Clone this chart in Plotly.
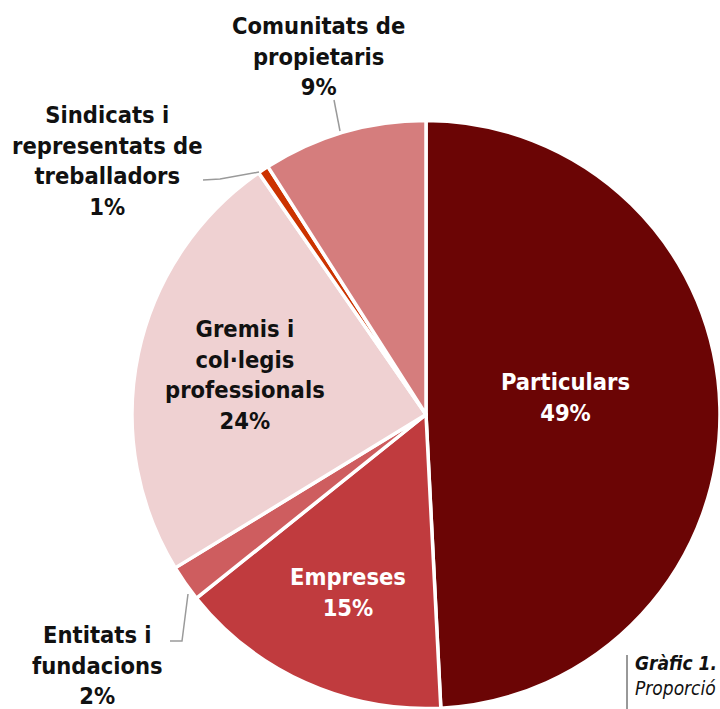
import plotly.graph_objects as go

# data
categories = ['Particulars', 'Empreses', 'Entitats i fundacions', 'Gremis i col·legis professionals',
              'Sindicats i representats de treballadors', 'Comunitats de propietaris']
values = [49, 15, 2, 24, 0.6, 9]
pct_labels = ['49%', '15%', '2%', '24%', '1%', '9%']
label_lines = ['Particulars', 'Empreses', 'Entitats i<br>fundacions', 'Gremis i<br>col·legis<br>professionals',
               'Sindicats i<br>representats de<br>treballadors', 'Comunitats de<br>propietaris']
colors = ['#6B0505', '#C03B3E', '#CE5D5F', '#EFD1D2', '#CC3300', '#D57D7D']

W, H = 720, 709
FONT = 'DejaVu Sans Condensed'

fig = go.Figure(go.Pie(
    labels=categories,
    values=values,
    sort=False,
    direction='clockwise',
    rotation=0,
    marker=dict(colors=colors, line=dict(color='white', width=3.5)),
    textinfo='none',
    hoverinfo='label',
    showlegend=False,
    domain=dict(x=[132 / W, 1.0], y=[0.0, 589 / H]),
))

# label placement (pixel centres) and text colour per slice
label_pos = [(565, 397), (348, 592), (97, 665), (245, 375), (107, 161), (318, 57)]
label_col = ['white', 'white', '#111', '#111', '#111', '#111']

for txt, p, (px_, py_), c in zip(label_lines, pct_labels, label_pos, label_col):
    fig.add_annotation(
        x=px_ / W, y=1 - py_ / H, xref='paper', yref='paper',
        text=f'{txt}<br>{p}', showarrow=False,
        xanchor='center', yanchor='middle', align='center',
        font=dict(family=FONT, size=23.5, color=c, weight='bold'),
    )

# leader lines for outside labels
leaders = [
    [(334, 100), (340, 131)],
    [(203, 180), (220, 179), (259, 172)],
    [(170, 641), (182, 641), (188, 594)],
]
for pts in leaders:
    path = 'M ' + ' L '.join(f'{x / W} {1 - y / H}' for x, y in pts)
    fig.add_shape(type='path', path=path, xref='paper', yref='paper',
                  line=dict(color='#9a9a9a', width=1.5))

# caption (cut off at the page edge like the source)
fig.add_shape(type='line', xref='paper', yref='paper',
              x0=627 / W, x1=627 / W, y0=0, y1=1 - 655 / H,
              line=dict(color='#333', width=1))
fig.add_annotation(
    x=633 / W, y=1 - 650 / H, xref='paper', yref='paper',
    text="<b><i>Gràfic 1.</i></b><br><i>Proporció</i>",
    showarrow=False, xanchor='left', yanchor='top', align='left',
    font=dict(family=FONT, size=19, color='#111'),
)

fig.update_layout(
    width=W, height=H,
    margin=dict(l=0, r=0, t=0, b=0),
    paper_bgcolor='white',
    plot_bgcolor='white',
)

fig.write_html('out.html', config={'displayModeBar': False},
               post_script="document.body.style.margin='0';")
